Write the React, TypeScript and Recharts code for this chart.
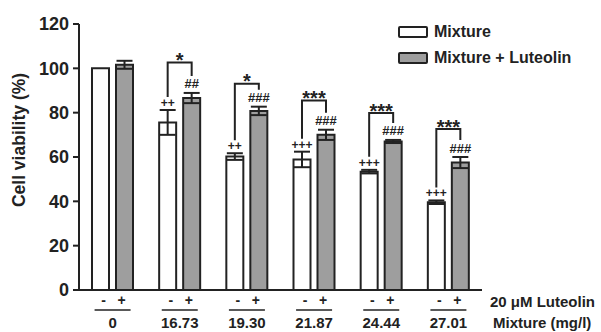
import React from 'react';
import { BarChart, Bar, XAxis, YAxis, ErrorBar, Legend, Rectangle } from 'recharts';

const categories = ['0', '16.73', '19.30', '21.87', '24.44', '27.01'];
const mixture = [100, 75.6, 60.2, 58.9, 53.4, 39.6];
const mixtureErr = [0, 5.6, 1.5, 3.5, 0.8, 0.8];
const luteolin = [101.6, 86.6, 80.8, 70, 67, 57.5];
const luteolinErr = [1.8, 2.3, 1.9, 2.3, 0.7, 2.5];
const mixtureMarks = ['', '++', '++', '+++', '+++', '+++'];
const luteolinMarks = ['', '##', '###', '###', '###', '###'];
const bracketLevel: (number | null)[] = [null, 102.6, 93, 85.5, 79.8, 72.6];
const bracketStars = ['', '*', '*', '***', '***', '***'];
const yTicks = [0, 20, 40, 60, 80, 100, 120];

const FONT = "'Liberation Sans', Arial, Helvetica, sans-serif";
const INK = '#222';
const GRAY = '#9e9e9e';
const BAR_GAP = 7;

const data = categories.map((dose, i) => ({
  dose,
  mixture: mixture[i],
  mixtureErr: mixtureErr[i],
  luteolin: luteolin[i],
  luteolinErr: luteolinErr[i],
}));

function idxOf(props: any): number {
  const d = props.payload?.dose ?? props.dose;
  const i = categories.indexOf(d);
  return i >= 0 ? i : props.index;
}

function MixtureBar(props: any) {
  const { x, y, width, height } = props;
  const i = idxOf(props);
  const ppu = height / mixture[i];
  const errTop = y - mixtureErr[i] * ppu;
  const mark = mixtureMarks[i];
  const plusY = errTop - 7;
  return (
    <g>
      <Rectangle x={x} y={y} width={width} height={height} fill="#fff" stroke={INK} strokeWidth={2} />
      {mark && (
        <text x={x + width / 2} y={plusY + 4} textAnchor="middle" fontSize={12} fontWeight="bold" fontFamily={FONT} fill={INK}>
          {mark}
        </text>
      )}
    </g>
  );
}

function LuteolinBar(props: any) {
  const { x, y, width, height } = props;
  const i = idxOf(props);
  const ppu = height / luteolin[i];
  const baseY = y + height;
  const errTop = y - luteolinErr[i] * ppu;
  const hashY = errTop - 9;
  const cx = x + width / 2;
  const wx = x - BAR_GAP - width / 2;
  const wTop = baseY - (mixture[i] + mixtureErr[i]) * ppu;
  const plusY = wTop - 7;
  const level = bracketLevel[i];
  const by = level != null ? baseY - level * ppu : 0;
  return (
    <g>
      <Rectangle x={x} y={y} width={width} height={height} fill={GRAY} stroke={INK} strokeWidth={2} />
      {luteolinMarks[i] && (
        <text x={cx} y={hashY + 4.5} textAnchor="middle" fontSize={13} fontWeight="bold" fontFamily={FONT} fill={INK}>
          {luteolinMarks[i]}
        </text>
      )}
      {level != null && (
        <g>
          <path d={`M${wx},${plusY - 6} V${by} H${cx} V${hashY - 8}`} fill="none" stroke={INK} strokeWidth={2} />
          <text x={(wx + cx) / 2} y={by + 4.6} textAnchor="middle" fontSize={20} fontWeight="bold" fontFamily={FONT} fill={INK}>
            {bracketStars[i]}
          </text>
        </g>
      )}
    </g>
  );
}

function DoseTick(props: any) {
  const { x, y, payload } = props;
  return (
    <g fontFamily={FONT} fontWeight="bold" fill={INK}>
      <text x={x - 9} y={y + 15} textAnchor="middle" fontSize={14}>-</text>
      <text x={x + 9} y={y + 15} textAnchor="middle" fontSize={14}>+</text>
      <line x1={x - 18} x2={x + 18} y1={y + 20} y2={y + 20} stroke={INK} strokeWidth={1.5} />
      <text x={x} y={y + 38.4} textAnchor="middle" fontSize={15}>{payload.value}</text>
    </g>
  );
}

function XNote(props: any) {
  const vb = props.viewBox || {};
  const rx = vb.x + vb.width + 8;
  return (
    <g fontFamily={FONT} fontWeight="bold" fill={INK} fontSize={15}>
      <text x={rx} y={vb.y + 17}>20 μM Luteolin</text>
      <text x={rx + 3} y={vb.y + 38.4}>Mixture (mg/l)</text>
    </g>
  );
}

function YNote(props: any) {
  const vb = props.viewBox || {};
  const lx = vb.x + 5.5;
  const ly = vb.y + vb.height / 2 - 17;
  return (
    <text x={lx} y={ly} transform={`rotate(-90, ${lx}, ${ly})`} textAnchor="middle" fontFamily={FONT} fontWeight="bold" fontSize={17.5} fill={INK}>
      Cell viability (%)
    </text>
  );
}

function LegendContent(props: any) {
  const payload = props.payload || [];
  return (
    <div style={{ fontFamily: FONT, fontWeight: 'bold', fontSize: 16, color: INK }}>
      {payload.map((e: any) => (
        <div key={e.value} style={{ display: 'flex', alignItems: 'center', height: 26, whiteSpace: 'nowrap' }}>
          <span
            style={{
              display: 'inline-block',
              width: 26,
              height: 8,
              border: `2px solid ${INK}`,
              borderRadius: 2,
              background: e.color,
              marginRight: 6,
            }}
          />
          {e.value}
        </div>
      ))}
    </div>
  );
}

export default function App() {
  return (
    <div style={{ position: 'absolute', left: 0, top: 0, background: '#fff' }}>
      <BarChart
        width={601}
        height={332}
        data={data}
        margin={{ top: 24, right: 119, bottom: 0, left: 19 }}
        barGap={BAR_GAP}
        barSize={17}
      >
        <XAxis
          dataKey="dose"
          height={42}
          tickSize={0}
          tickMargin={0}
          tickLine={false}
          interval={0}
          axisLine={{ stroke: INK, strokeWidth: 2 }}
          tick={<DoseTick />}
          label={{ content: (p: any) => <XNote {...p} /> }}
        />
        <YAxis
          width={60}
          domain={[0, 120]}
          ticks={yTicks}
          interval={0}
          tickSize={6}
          tickMargin={4}
          axisLine={{ stroke: INK, strokeWidth: 2 }}
          tickLine={{ stroke: INK, strokeWidth: 2 }}
          tick={{ fontSize: 18, fontWeight: 'bold', fill: INK, fontFamily: FONT }}
          label={{ content: (p: any) => <YNote {...p} /> }}
        />
        <Legend
          layout="vertical"
          align="center"
          verticalAlign="middle"
          wrapperStyle={{ left: 398, top: 19, width: 200 }}
          content={(p: any) => <LegendContent {...p} />}
        />
        <Bar dataKey="mixture" name="Mixture" fill="#fff" stroke={INK} strokeWidth={2} isAnimationActive={false} shape={(p: any) => <MixtureBar {...p} />}>
          <ErrorBar dataKey="mixtureErr" width={8} stroke={INK} strokeWidth={2} isAnimationActive={false} />
        </Bar>
        <Bar dataKey="luteolin" name="Mixture + Luteolin" fill={GRAY} stroke={INK} strokeWidth={2} isAnimationActive={false} shape={(p: any) => <LuteolinBar {...p} />}>
          <ErrorBar dataKey="luteolinErr" width={8} stroke={INK} strokeWidth={2} isAnimationActive={false} />
        </Bar>
      </BarChart>
    </div>
  );
}
